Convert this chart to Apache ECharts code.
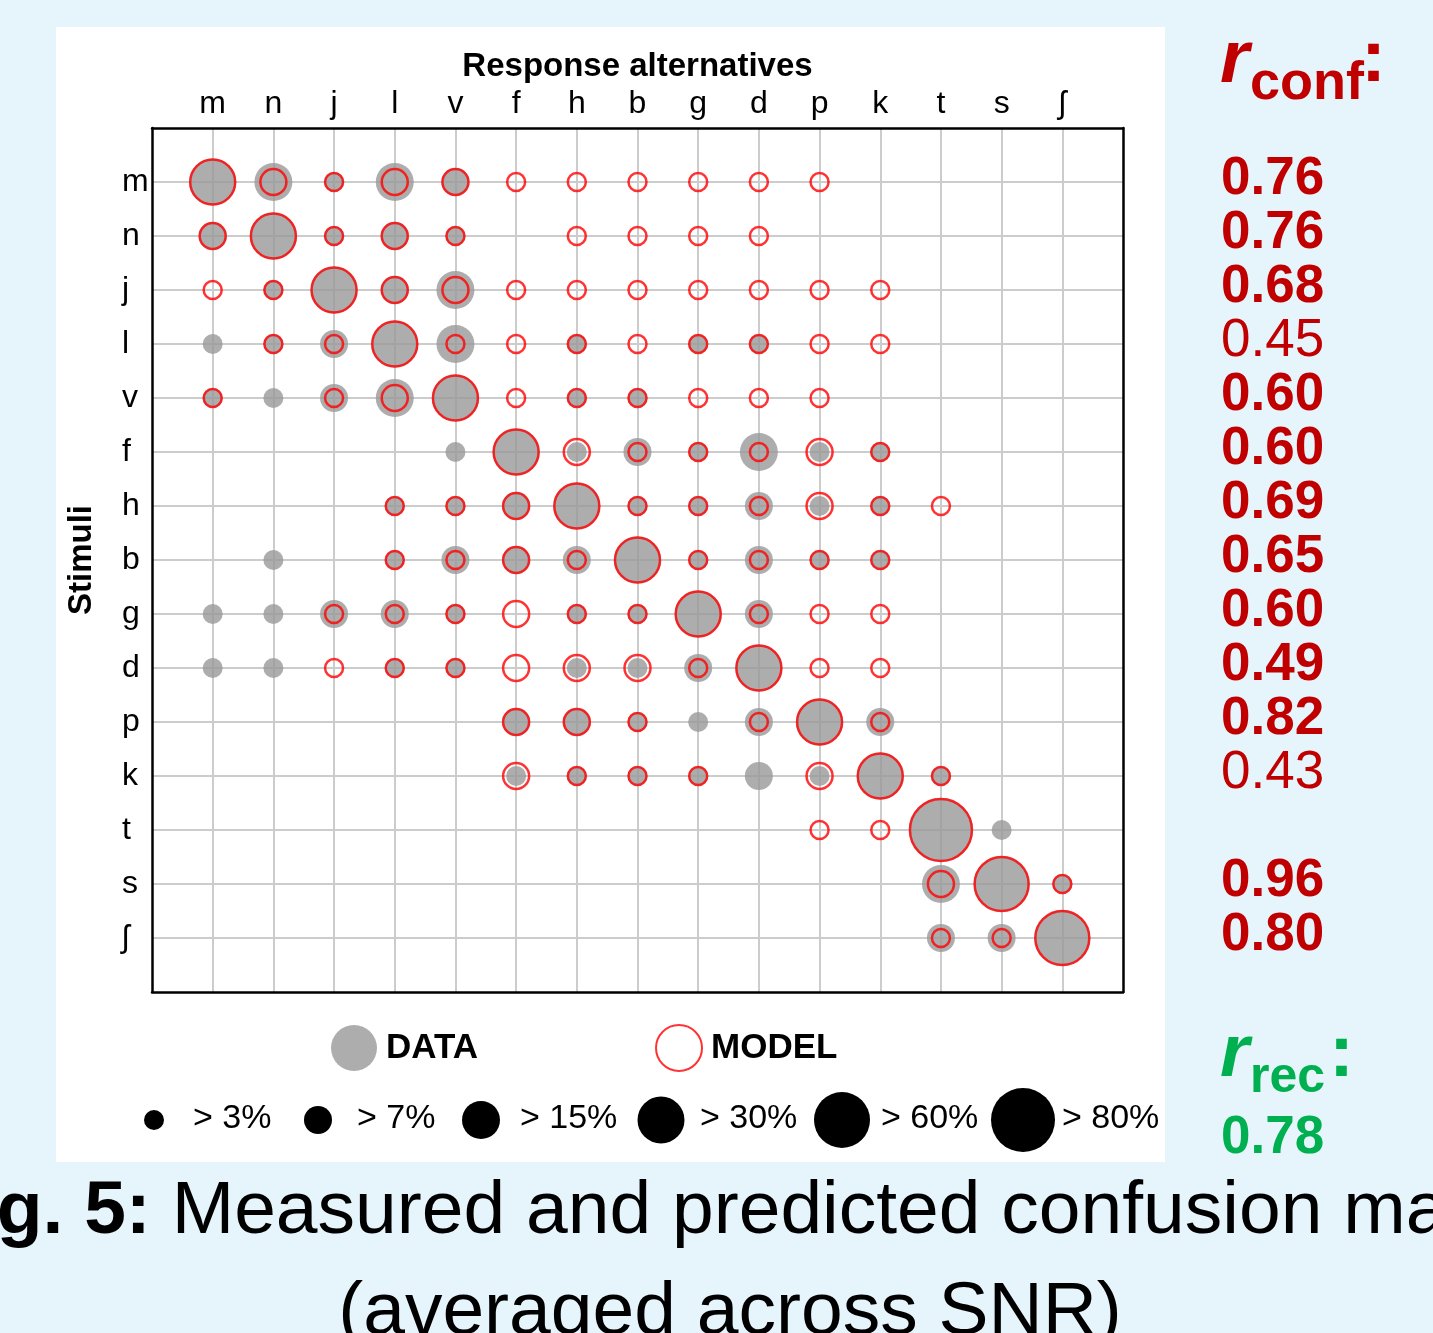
<!DOCTYPE html>
<html><head><meta charset="utf-8">
<script src="https://cdn.jsdelivr.net/npm/echarts@6/dist/echarts.min.js"></script>
<style>html,body{margin:0;padding:0;background:#e6f4fc}#c{width:1433px;height:1333px}</style>
</head><body><div id="c"></div>
<script>
// ---- data ----
const phonemes = ['m','n','j','l','v','f','h','b','g','d','p','k','t','s','ʃ'];
// size class per cell (0 = none, 1 = >3%, 2 = >7%, 3 = >15%, 4 = >30%, 5 = >60%, 6 = >80%)
// rows = stimuli, columns = response alternatives
const dataClass = [
  [4,3,1,3,2,0,0,0,0,0,0,0,0,0,0],
  [2,4,1,2,1,0,0,0,0,0,0,0,0,0,0],
  [0,1,4,2,3,0,0,0,0,0,0,0,0,0,0],
  [1,1,2,4,3,0,1,0,1,1,0,0,0,0,0],
  [1,1,2,3,4,0,1,1,0,0,0,0,0,0,0],
  [0,0,0,0,1,4,1,2,1,3,1,1,0,0,0],
  [0,0,0,1,1,2,4,1,1,2,1,1,0,0,0],
  [0,1,0,1,2,2,2,4,1,2,1,1,0,0,0],
  [1,1,2,2,1,0,1,1,4,2,0,0,0,0,0],
  [1,1,0,1,1,0,1,1,2,4,0,0,0,0,0],
  [0,0,0,0,0,2,2,1,1,2,4,2,0,0,0],
  [0,0,0,0,0,1,1,1,1,2,1,4,1,0,0],
  [0,0,0,0,0,0,0,0,0,0,0,0,6,1,0],
  [0,0,0,0,0,0,0,0,0,0,0,0,3,5,1],
  [0,0,0,0,0,0,0,0,0,0,0,0,2,2,5]
];
const modelClass = [
  [4,2,1,2,2,1,1,1,1,1,1,0,0,0,0],
  [2,4,1,2,1,0,1,1,1,1,0,0,0,0,0],
  [1,1,4,2,2,1,1,1,1,1,1,1,0,0,0],
  [0,1,1,4,1,1,1,1,1,1,1,1,0,0,0],
  [1,0,1,2,4,1,1,1,1,1,1,0,0,0,0],
  [0,0,0,0,0,4,2,1,1,1,2,1,0,0,0],
  [0,0,0,1,1,2,4,1,1,1,2,1,1,0,0],
  [0,0,0,1,1,2,1,4,1,1,1,1,0,0,0],
  [0,0,1,1,1,2,1,1,4,1,1,1,0,0,0],
  [0,0,1,1,1,2,2,2,1,4,1,1,0,0,0],
  [0,0,0,0,0,2,2,1,0,1,4,1,0,0,0],
  [0,0,0,0,0,2,1,1,1,0,2,4,1,0,0],
  [0,0,0,0,0,0,0,0,0,0,1,1,6,0,0],
  [0,0,0,0,0,0,0,0,0,0,0,0,2,5,1],
  [0,0,0,0,0,0,0,0,0,0,0,0,1,1,5]
];
const sizeLabels = ['> 3%','> 7%','> 15%','> 30%','> 60%','> 80%'];
const sizeDiam = [20,28,38,47,56,64];
const rConf = ['0.76','0.76','0.68','0.45','0.60','0.60','0.69','0.65','0.60','0.49','0.82','0.43','','0.96','0.80'];
const rConfBold = [1,1,1,0,1,1,1,1,1,1,1,0,0,1,1];
const rRec = '0.78';

// ---- chart ----
const FF = '"Liberation Sans", Arial, Helvetica, sans-serif';
const RED = '#c00000', GREEN = '#00b050';
function pts(mat){
  const out = [];
  mat.forEach((row,i)=>row.forEach((c,j)=>{ if(c>0) out.push([j+1, i+1, c]); }));
  return out;
}
const chart = echarts.init(document.getElementById('c'), null, {renderer:'canvas'});
const legendCx = [154,318,481,661,842,1023];
function txt(x, y, text, size, color, extra){
  return {type:'text', x:x, y:y, style:Object.assign({text:text, fontSize:size, fontFamily:FF, fill:color,
    align:'left', verticalAlign:'middle', textAlign:'left', textVerticalAlign:'middle'}, extra||{})};
}
const graphics = [
  {type:'rect', z:-100, zlevel:0, shape:{x:56,y:27,width:1109,height:1135}, style:{fill:'#ffffff'}, silent:true},
  txt(1220, 61, 'r', 75, RED, {fontWeight:'bold', fontStyle:'italic'}),
  txt(1250, 84, 'conf', 54, RED, {fontWeight:'bold'}),
  txt(1361, 60, ':', 75, RED, {fontWeight:'bold'}),
  txt(1220, 1055, 'r', 75, GREEN, {fontWeight:'bold', fontStyle:'italic'}),
  txt(1250, 1078, 'rec', 50, GREEN, {fontWeight:'bold'}),
  txt(1329, 1055, ':', 75, GREEN, {fontWeight:'bold'}),
  txt(1221, 1138, rRec, 53, GREEN, {fontWeight:'bold'}),
  {type:'text', x:-70, y:1212, style:{text:'{b|Fig. 5:}{n| Measured and predicted confusion matrices}', rich:{b:{fontSize:75, fontWeight:'bold', fontFamily:FF, fill:'#000'}, n:{fontSize:75, fontFamily:FF, fill:'#000'}}, align:'left', verticalAlign:'middle', textAlign:'left', textVerticalAlign:'middle'}},
  {type:'text', x:730, y:1313, style:{text:'(averaged across SNR)', fontSize:75, fontFamily:FF, fill:'#000', align:'center', verticalAlign:'middle', textAlign:'center', textVerticalAlign:'middle'}}
];
sizeDiam.forEach((d,i)=>{
  graphics.push({type:'circle', shape:{cx:legendCx[i], cy:1120, r:d/2}, style:{fill:'#000'}});
  graphics.push(txt(legendCx[i]+39, 1119, sizeLabels[i], 34, '#000'));
});

const splitLine = {show:true, showMinLine:false, showMaxLine:false, lineStyle:{color:'#cccccc', width:2}};
const border = {show:true, onZero:false, lineStyle:{color:'#000', width:2.5}};
chart.setOption({
  backgroundColor:'#e6f4fc',
  animation:false,
  grid:{left:152, right:310, top:128, bottom:341, containLabel:false},
  legend:{
    left:331, top:1024, itemWidth:46, itemHeight:46, itemGap:177, selectedMode:false, padding:0,
    icon:'circle',
    textStyle:{fontSize:35, fontWeight:'bold', color:'#000', fontFamily:FF, padding:[0,0,0,4]},
    data:[
      {name:'DATA', itemStyle:{color:'#999999', borderWidth:0}},
      {name:'MODEL', itemStyle:{color:'rgba(0,0,0,0)', borderColor:'#ff0000', borderWidth:2}}
    ]
  },
  xAxis:[
    {type:'value', position:'top', min:0, max:16, interval:1,
     axisLine:border, axisTick:{show:false}, splitLine:splitLine,
     axisLabel:{formatter:v=>phonemes[v-1]||'', fontSize:32, color:'#000', fontFamily:FF, margin:8},
     name:'Response alternatives', nameLocation:'middle', nameGap:44,
     nameTextStyle:{fontSize:33, fontWeight:'bold', color:'#000', fontFamily:FF}},
    {type:'value', position:'bottom', min:0, max:16, interval:1,
     axisLine:border, axisTick:{show:false}, splitLine:{show:false}, axisLabel:{show:false}}
  ],
  yAxis:[
    {type:'value', position:'left', inverse:true, min:0, max:16, interval:1,
     axisLine:border, axisTick:{show:false}, splitLine:splitLine,
     axisLabel:{formatter:v=>phonemes[v-1]||'', fontSize:32, color:'#000', fontFamily:FF, align:'left', margin:30},
     name:'Stimuli', nameLocation:'middle', nameGap:54, nameRotate:90,
     nameTextStyle:{fontSize:33, fontWeight:'bold', color:'#000', fontFamily:FF}},
    {type:'value', position:'right', inverse:true, min:0, max:16, interval:1,
     axisLine:border, axisTick:{show:false}, splitLine:{show:false},
     axisLabel:{formatter:v=>{const s=rConf[v-1]; if(!s) return ''; return '{'+(rConfBold[v-1]?'b':'n')+'|'+s+'}';},
       align:'left', margin:98, padding:[0,0,6,0],
       rich:{b:{fontSize:53, fontWeight:'bold', color:RED, fontFamily:FF}, n:{fontSize:53, fontWeight:'normal', color:RED, fontFamily:FF}}}}
  ],
  series:[
    {name:'DATA', type:'scatter', xAxisIndex:0, yAxisIndex:0, symbol:'circle',
     symbolSize:v=>sizeDiam[v[2]-1], itemStyle:{color:'#999999'}, emphasis:{disabled:true}, data:pts(dataClass), z:2},
    {name:'MODEL', type:'scatter', xAxisIndex:0, yAxisIndex:0, symbol:'circle',
     symbolSize:v=>sizeDiam[v[2]-1]-2, itemStyle:{color:'rgba(0,0,0,0)', borderColor:'#ff0000', borderWidth:2.5}, emphasis:{disabled:true}, data:pts(modelClass), z:3}
  ],
  graphic:graphics
});
</script></body></html>
